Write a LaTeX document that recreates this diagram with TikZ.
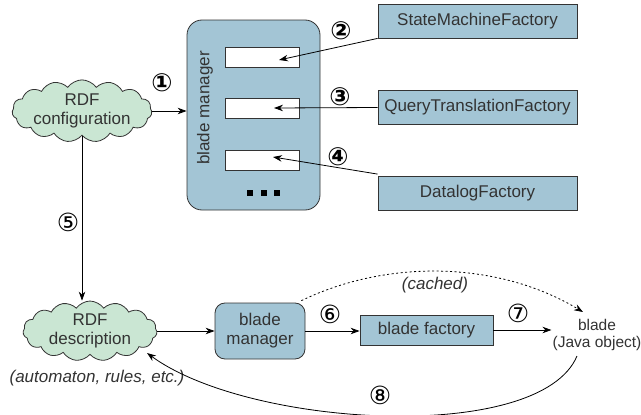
\documentclass[tikz,border=0pt]{standalone}
\usepackage{fontspec}
\setmainfont{Liberation Sans}
\newfontfamily\symfont{DejaVu Sans}
\usetikzlibrary{shapes.symbols,arrows.meta}
\definecolor{boxblue}{HTML}{A3C5D5}
\definecolor{cloudgreen}{HTML}{CAE6D3}
\definecolor{edgegray}{HTML}{333333}
\begin{document}
\begin{tikzpicture}[x=1pt,y=-1pt,
  every node/.style={font=\fontsize{17}{19}\selectfont, text=edgegray},
  cloudnode/.style={cloud, cloud puffs=15, cloud puff arc=110, cloud ignores aspect, draw=edgegray, fill=cloudgreen, line width=0.8pt, align=center, inner sep=0pt},
  factory/.style={draw=edgegray, fill=boxblue, line width=0.8pt, minimum width=199, minimum height=34, inner sep=0pt},
  slot/.style={draw=edgegray, fill=white, line width=0.8pt, minimum width=74, minimum height=20, inner sep=0pt},
  sq/.style={fill=black, minimum size=6, inner sep=0pt},
  num/.style={font=\symfont\bfseries\fontsize{25}{25}\selectfont, text=black},
  numb/.style={font=\symfont\fontsize{25}{25}\selectfont, text=black},
  arr/.style={draw=black, line width=0.8pt, -{Stealth[length=9pt,width=6.5pt]}},
  note/.style={font=\fontsize{17}{19}\selectfont\itshape}
]
\useasboundingbox (0,0) rectangle (641,415);
% top part
\node[cloudnode, minimum width=130, minimum height=57] (conf) at (82,111) {RDF\\configuration};
\node[draw=edgegray, fill=boxblue, line width=0.8pt, rounded corners=15, minimum width=133, minimum height=190, inner sep=0pt] (bm) at (253.5,115) {};
\node[rotate=90] (bmlabel) at (205,108) {blade manager};
\node[slot] (s1) at (262,57) {};
\node[slot] (s2) at (262,108) {};
\node[slot] (s3) at (262,160) {};
\node[sq] (d1) at (250,193) {};
\node[sq] (d2) at (263.5,193) {};
\node[sq] (d3) at (277,193) {};
\node[factory] (smf) at (477.5,21) {StateMachineFactory};
\node[factory] (qtf) at (477.5,107.5) {QueryTranslationFactory};
\node[factory] (dlf) at (477.5,193.5) {DatalogFactory};
\coordinate (h2) at (279,60);
\coordinate (h3) at (274,108);
\coordinate (h4) at (273,157);
\draw[arr] (conf.east) -- (conf.east -| bm.west);
\draw[arr] (smf.south west) -- (h2);
\draw[arr] (qtf.west) -- (h3);
\draw[arr] ([yshift=2]dlf.north west) -- (h4);
\node[num] (n1) at (162,83) {①};
\node[num] (n2) at (341,31) {②};
\node[num] (n3) at (340,97) {③};
\node[num] (n4) at (338,157) {④};
% bottom part
\node[cloudnode, minimum width=134, minimum height=57] (desc) at (90,331) {RDF\\description};
\node[note] (auto) at (97,378) {(automaton, rules, etc.)};
\node[draw=edgegray, fill=boxblue, line width=0.8pt, rounded corners=10, minimum width=90, minimum height=56, align=center, inner sep=0pt] (bm2) at (260,331) {blade\\manager};
\node[factory, minimum width=133, minimum height=30] (bf) at (426.5,330) {blade factory};
\node[align=center, font=\fontsize{15.5}{17}\selectfont, inner sep=1pt] (blade) at (597,335) {blade\\(Java object)};
\coordinate (hc) at (583,312);
\coordinate (s8) at (577,356);
\coordinate (h8) at (147,353);
\draw[arr] (conf.south) -- (conf.south |- desc.north);
\draw[arr] (desc.east) -- (desc.east -| bm2.west);
\draw[arr] (bm2.east) -- (bm2.east -| bf.west);
\draw[arr] (bf.east) -- (bf.east -| blade.west);
\draw[arr, dash pattern=on 2pt off 2.5pt] ([xshift=-4,yshift=2]bm2.north east) .. controls (390,258) and (500,262) .. (hc);
\draw[arr] (s8) .. controls (540,444) and (250,428) .. (h8);
\node[note] (cached) at (435,285) {(cached)};
\node[numb] (n5) at (68,222) {⑤};
\node[numb] (n6) at (330,314) {⑥};
\node[numb] (n7) at (518,313) {⑦};
\node[numb] (n8) at (380,395) {⑧};
\end{tikzpicture}
\end{document}
